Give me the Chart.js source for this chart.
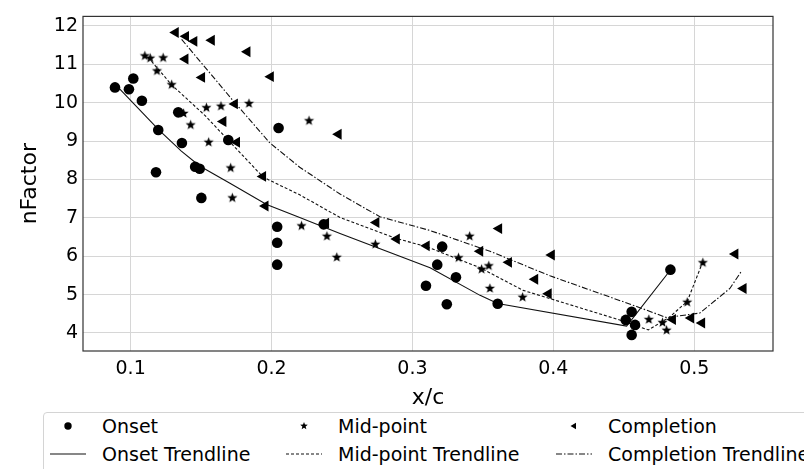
<!DOCTYPE html>
<html>
<head>
<meta charset="utf-8">
<script src="https://cdn.jsdelivr.net/npm/chart.js@4"></script>
<style>
  html, body { margin: 0; padding: 0; background: #fff; }
  #wrap { position: relative; width: 804px; height: 469px; overflow: hidden; font-family: "DejaVu Sans", sans-serif; }
  #legend { position: absolute; left: 43px; top: 412px; width: 800px; height: 80px; border: 1px solid #d4d4d4; border-radius: 4px; box-sizing: border-box; background: #fff; }
  .item { position: absolute; display: flex; align-items: center; height: 24px; font-size: 19px; color: #000; white-space: nowrap; }
  .item svg { margin-right: 16px; }
</style>
</head>
<body>
<div id="wrap">
  <canvas id="chart" width="804" height="469"></canvas>
  <div id="legend"></div>
</div>
<script>
// scatter points
const onsetX = [0.0889, 0.0988, 0.1019, 0.1080, 0.1180, 0.1196, 0.1338, 0.1364, 0.1458, 0.1490, 0.1502, 0.1693, 0.2040, 0.2040, 0.2040, 0.2050, 0.2370, 0.3096, 0.3176, 0.3211, 0.3244, 0.3309, 0.3605, 0.4514, 0.4556, 0.4556, 0.4580, 0.4831];
const onsetY = [10.40, 10.35, 10.63, 10.05, 8.19, 9.29, 9.75, 8.95, 8.33, 8.28, 7.52, 9.03, 6.77, 6.35, 5.78, 9.34, 6.83, 5.23, 5.78, 6.25, 4.75, 5.45, 4.76, 4.34, 4.55, 3.95, 4.21, 5.65];

const midX = [0.1101, 0.1139, 0.1231, 0.1187, 0.1291, 0.1376, 0.1426, 0.1538, 0.1554, 0.1641, 0.1710, 0.1722, 0.1840, 0.2213, 0.2266, 0.2393, 0.2463, 0.2737, 0.3327, 0.3406, 0.3491, 0.3542, 0.3550, 0.3782, 0.4678, 0.4775, 0.4804, 0.4950, 0.5061];
const midY = [11.22, 11.16, 11.17, 10.83, 10.47, 9.72, 9.42, 9.87, 8.97, 9.91, 8.30, 7.52, 9.98, 6.79, 9.53, 6.52, 5.97, 6.31, 5.96, 6.52, 5.66, 5.75, 5.16, 4.93, 4.35, 4.27, 4.07, 4.80, 5.83];

const compX = [0.1319, 0.1392, 0.1451, 0.1575, 0.1828, 0.1388, 0.1506, 0.1994, 0.1739, 0.1657, 0.1754, 0.1939, 0.1956, 0.2475, 0.2386, 0.2743, 0.2888, 0.3100, 0.3480, 0.3614, 0.3684, 0.3870, 0.3966, 0.3988, 0.4848, 0.4977, 0.5055, 0.5291, 0.5349];
const compY = [11.83, 11.73, 11.60, 11.63, 11.33, 11.14, 10.66, 10.68, 9.97, 9.51, 8.97, 8.08, 7.31, 9.18, 6.86, 6.88, 6.45, 6.27, 6.13, 6.72, 5.84, 5.40, 5.02, 6.03, 4.35, 4.39, 4.26, 6.06, 5.16];

// trendlines (polylines)
const onsetTrendX = [0.0893, 0.1200, 0.1360, 0.1490, 0.1705, 0.1965, 0.2200, 0.2486, 0.3125, 0.3480, 0.3605, 0.4520, 0.4831];
const onsetTrendY = [10.47, 9.29, 8.74, 8.35, 7.90, 7.35, 7.01, 6.59, 5.70, 4.98, 4.77, 4.18, 5.64];

const midTrendX = [0.1125, 0.1290, 0.1527, 0.1941, 0.2200, 0.2486, 0.2888, 0.3100, 0.3480, 0.3786, 0.4496, 0.4674, 0.4820, 0.4950, 0.5055];
const midTrendY = [11.18, 10.47, 9.67, 8.06, 7.60, 7.01, 6.46, 6.25, 5.70, 5.11, 4.31, 4.08, 4.40, 4.82, 5.80];

const compTrendX = [0.1362, 0.1527, 0.1728, 0.1989, 0.2200, 0.2486, 0.2769, 0.3125, 0.3550, 0.3976, 0.4591, 0.4804, 0.5040, 0.5253, 0.5337];
const compTrendY = [11.65, 10.93, 10.05, 8.95, 8.32, 7.62, 7.03, 6.67, 6.13, 5.49, 4.69, 4.40, 4.52, 5.16, 5.62];

// axis ticks
const xTicks = [0.1, 0.2, 0.3, 0.4, 0.5];
const yTicks = [4, 5, 6, 7, 8, 9, 10, 11, 12];

const toPoints = (xs, ys) => xs.map((x, i) => ({ x: x, y: ys[i] }));

// filled five point star, like matplotlib's "*"
function makeStar(r) {
  const c = document.createElement("canvas");
  const s = Math.ceil(r * 2 + 2);
  c.width = s;
  c.height = s;
  const g = c.getContext("2d");
  g.fillStyle = "#000";
  g.beginPath();
  for (let i = 0; i < 10; i++) {
    const rad = i % 2 ? r * 0.42 : r;
    const a = -Math.PI / 2 + (i * Math.PI) / 5;
    g.lineTo(s / 2 + rad * Math.cos(a), s / 2 + rad * Math.sin(a));
  }
  g.closePath();
  g.fill();
  return c;
}

Chart.defaults.font.family = "'DejaVu Sans', sans-serif";
Chart.defaults.color = "#000";

// box around the plot area
const framePlugin = {
  id: "frame",
  afterDraw(chart) {
    const { ctx, chartArea: a } = chart;
    ctx.save();
    ctx.strokeStyle = "#333";
    ctx.lineWidth = 1.2;
    ctx.strokeRect(a.left, a.top, a.right - a.left, a.bottom - a.top);
    ctx.restore();
  },
};

const lineBase = {
  showLine: true,
  pointRadius: 0,
  borderColor: "#111",
  borderWidth: 1.1,
  fill: false,
  tension: 0,
};

const chart = new Chart(document.getElementById("chart"), {
  type: "scatter",
  data: {
    datasets: [
      {
        label: "Onset",
        data: toPoints(onsetX, onsetY),
        pointStyle: "circle",
        pointRadius: 5.3,
        backgroundColor: "#000",
        borderColor: "#000",
        borderWidth: 0,
      },
      {
        label: "Mid-point",
        data: toPoints(midX, midY),
        pointStyle: makeStar(5.3),
        pointRadius: 5,
        backgroundColor: "#000",
        borderColor: "#000",
      },
      {
        label: "Completion",
        data: toPoints(compX, compY),
        pointStyle: "triangle",
        rotation: -90,
        pointRadius: 6.3,
        backgroundColor: "#000",
        borderColor: "#000",
        borderWidth: 0,
      },
      Object.assign({ label: "Onset Trendline", data: toPoints(onsetTrendX, onsetTrendY) }, lineBase),
      Object.assign({ label: "Mid-point Trendline", data: toPoints(midTrendX, midTrendY), borderDash: [3, 2] }, lineBase),
      Object.assign({ label: "Completion Trendline", data: toPoints(compTrendX, compTrendY), borderDash: [6, 2, 1.5, 2] }, lineBase),
    ],
  },
  options: {
    responsive: false,
    animation: false,
    devicePixelRatio: 1,
    layout: { padding: { left: 0, right: 31, top: 6, bottom: 58 } },
    plugins: {
      legend: { display: false },
      tooltip: { enabled: false },
    },
    scales: {
      x: {
        type: "linear",
        min: 0.0662,
        max: 0.5559,
        afterBuildTicks: (s) => {
          s.ticks = xTicks.map((v) => ({ value: v }));
        },
        afterFit: (s) => {
          s.height = 60;
        },
        ticks: {
          font: { size: 19 },
          padding: 7,
          callback: (v) => v.toFixed(1),
        },
        grid: { color: "#d6d6d6", lineWidth: 1, drawTicks: false },
        border: { display: false },
        title: { display: true, text: "x/c", font: { size: 22 }, padding: { top: 0, bottom: 0 } },
      },
      y: {
        type: "linear",
        min: 3.53,
        max: 12.25,
        afterBuildTicks: (s) => {
          s.ticks = yTicks.map((v) => ({ value: v }));
        },
        afterFit: (s) => {
          s.width = 83;
        },
        ticks: {
          font: { size: 19 },
          padding: 5,
        },
        grid: { color: "#d6d6d6", lineWidth: 1, drawTicks: false },
        border: { display: false },
        title: { display: true, text: "nFactor", font: { size: 22 }, padding: { top: 17, bottom: 0 } },
      },
    },
  },
  plugins: [framePlugin],
});

// legend laid out in three columns like the original figure
function handleSvg(ds) {
  const ns = "http://www.w3.org/2000/svg";
  const svg = document.createElementNS(ns, "svg");
  svg.setAttribute("width", "36");
  svg.setAttribute("height", "24");
  let el;
  if (ds.showLine) {
    el = document.createElementNS(ns, "line");
    el.setAttribute("x1", "0");
    el.setAttribute("x2", "36");
    el.setAttribute("y1", "12");
    el.setAttribute("y2", "12");
    el.setAttribute("stroke", "#111");
    el.setAttribute("stroke-width", "1.1");
    if (ds.borderDash) el.setAttribute("stroke-dasharray", ds.borderDash.join(" "));
  } else if (ds.label === "Onset") {
    el = document.createElementNS(ns, "circle");
    el.setAttribute("cx", "18");
    el.setAttribute("cy", "12");
    el.setAttribute("r", "3.7");
  } else if (ds.label === "Mid-point") {
    el = document.createElementNS(ns, "polygon");
    const pts = [];
    for (let i = 0; i < 10; i++) {
      const rad = i % 2 ? 1.7 : 4;
      const a = -Math.PI / 2 + (i * Math.PI) / 5;
      pts.push((18 + rad * Math.cos(a)).toFixed(2) + "," + (12 + rad * Math.sin(a)).toFixed(2));
    }
    el.setAttribute("points", pts.join(" "));
  } else {
    el = document.createElementNS(ns, "polygon");
    el.setAttribute("points", "14.5,12 20,8.8 20,15.2");
  }
  if (!ds.showLine) el.setAttribute("fill", "#000");
  svg.appendChild(el);
  return svg;
}

const legend = document.getElementById("legend");
const colText = [59, 295, 565];
const rowMid = [14, 42];
chart.data.datasets.forEach((ds, i) => {
  const item = document.createElement("div");
  item.className = "item";
  item.style.left = colText[i % 3] - 52 - 1 + "px";
  item.style.top = rowMid[Math.floor(i / 3)] - 12 - 1 + "px";
  item.appendChild(handleSvg(ds));
  const span = document.createElement("span");
  span.textContent = ds.label;
  item.appendChild(span);
  legend.appendChild(item);
});
</script>
</body>
</html>
